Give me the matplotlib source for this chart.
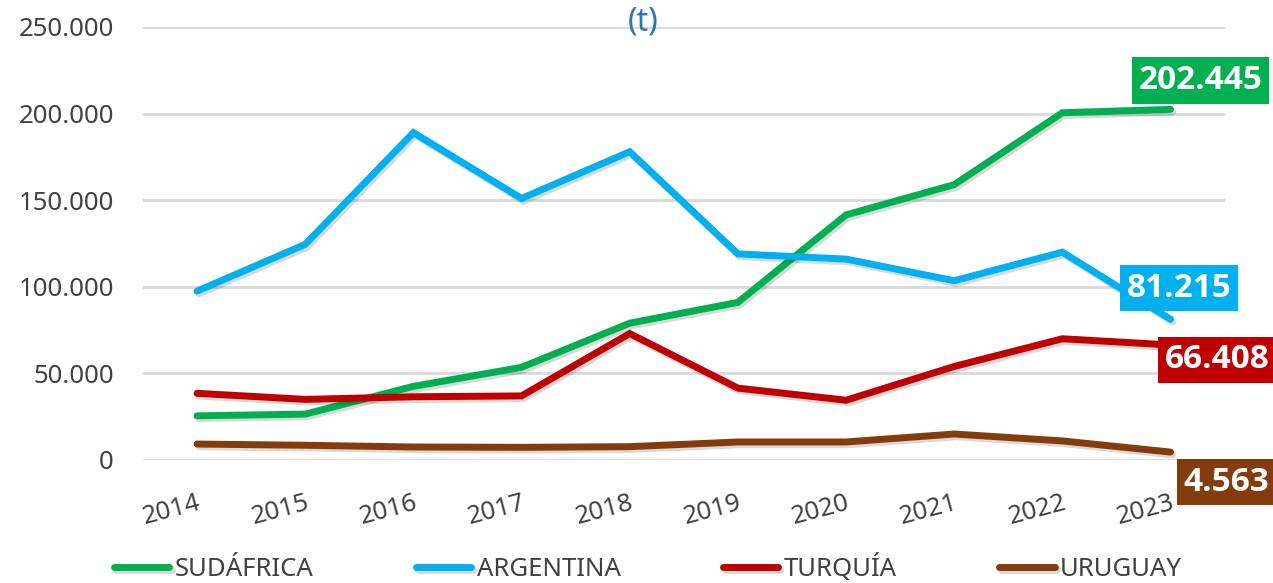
import numpy as np
import matplotlib.pyplot as plt
import matplotlib.patheffects as pe
from matplotlib.ticker import FuncFormatter

plt.rcParams['font.family'] = ['Noto Sans', 'DejaVu Sans']

years = ['2014', '2015', '2016', '2017', '2018', '2019', '2020', '2021', '2022', '2023']

# tonnes per year
sudafrica = [25500, 26500, 42500, 53500, 79000, 91000, 141500, 159000, 200500, 202445]
argentina = [97500, 124500, 189000, 151000, 178000, 119000, 116000, 103500, 120000, 81215]
turquia = [38500, 35000, 36500, 37000, 73000, 41500, 34500, 54000, 70000, 66408]
uruguay = [9200, 8500, 7500, 7300, 7700, 10400, 10400, 15000, 11000, 4563]

series = ['SUDÁFRICA', 'ARGENTINA', 'TURQUÍA', 'URUGUAY']
colors = ['#00B050', '#00B0F0', '#C00000', '#843C0C']
end_labels = ['202.445', '81.215', '66.408', '4.563']

fig = plt.figure(figsize=(12.73, 5.83), dpi=100)
ax = fig.add_axes([0.1123, 0.211, 0.8497, 0.7427])

x = np.arange(len(years))
shadow = [pe.SimpleLineShadow(offset=(1.5, -2), alpha=0.15, shadow_color='black'), pe.Normal()]
data = [sudafrica, argentina, turquia, uruguay]
for vals, name, col in zip(data, series, colors):
    ax.plot(x, vals, color=col, lw=5, label=name, solid_capstyle='round',
            solid_joinstyle='miter', path_effects=shadow, zorder=3)

# end value boxes (offsets in pixels from the last point)
offsets = [(-32, 29), (-44, 31), (-6, -15), (13, -30)]
for vals, col, lab, off in zip(data, colors, end_labels, offsets):
    ax.annotate(lab, (x[-1], vals[-1]), xytext=off, textcoords='offset pixels',
                ha='left', va='center', fontsize=24, fontweight='bold', color='white',
                family=['Open Sans', 'Lato', 'DejaVu Sans'],
                bbox=dict(boxstyle='square,pad=0.2', fc=col, ec='none'),
                annotation_clip=False, zorder=5)

ax.set_xlim(-0.5, 9.5)
ax.set_ylim(0, 250000)
ax.set_yticks(np.arange(0, 250001, 50000))
ax.yaxis.set_major_formatter(FuncFormatter(lambda v, p: f'{int(v):,}'.replace(',', '.')))
ax.set_xticks(x)
ax.set_xticklabels(years, rotation=15, ha='right', rotation_mode='anchor')
ax.tick_params(axis='y', length=0, pad=21, labelsize=18.5, labelcolor='#404040')
ax.tick_params(axis='x', length=0, pad=22, labelsize=18.5, labelcolor='#404040')
ax.grid(axis='y', color='#D9D9D9', lw=2)
ax.set_axisbelow(True)
for s in ax.spines.values():
    s.set_visible(False)

fig.text(0.505, 0.962, '(t)', ha='center', va='center', fontsize=23, color='#2E75B6')

fig.legend(loc='center', bbox_to_anchor=(0.509, 0.026), ncol=4, frameon=False,
           fontsize=18.5, labelcolor='#404040', handlelength=2.15, handletextpad=0.2,
           columnspacing=4.0)

fig.savefig('out.png', dpi=100)
